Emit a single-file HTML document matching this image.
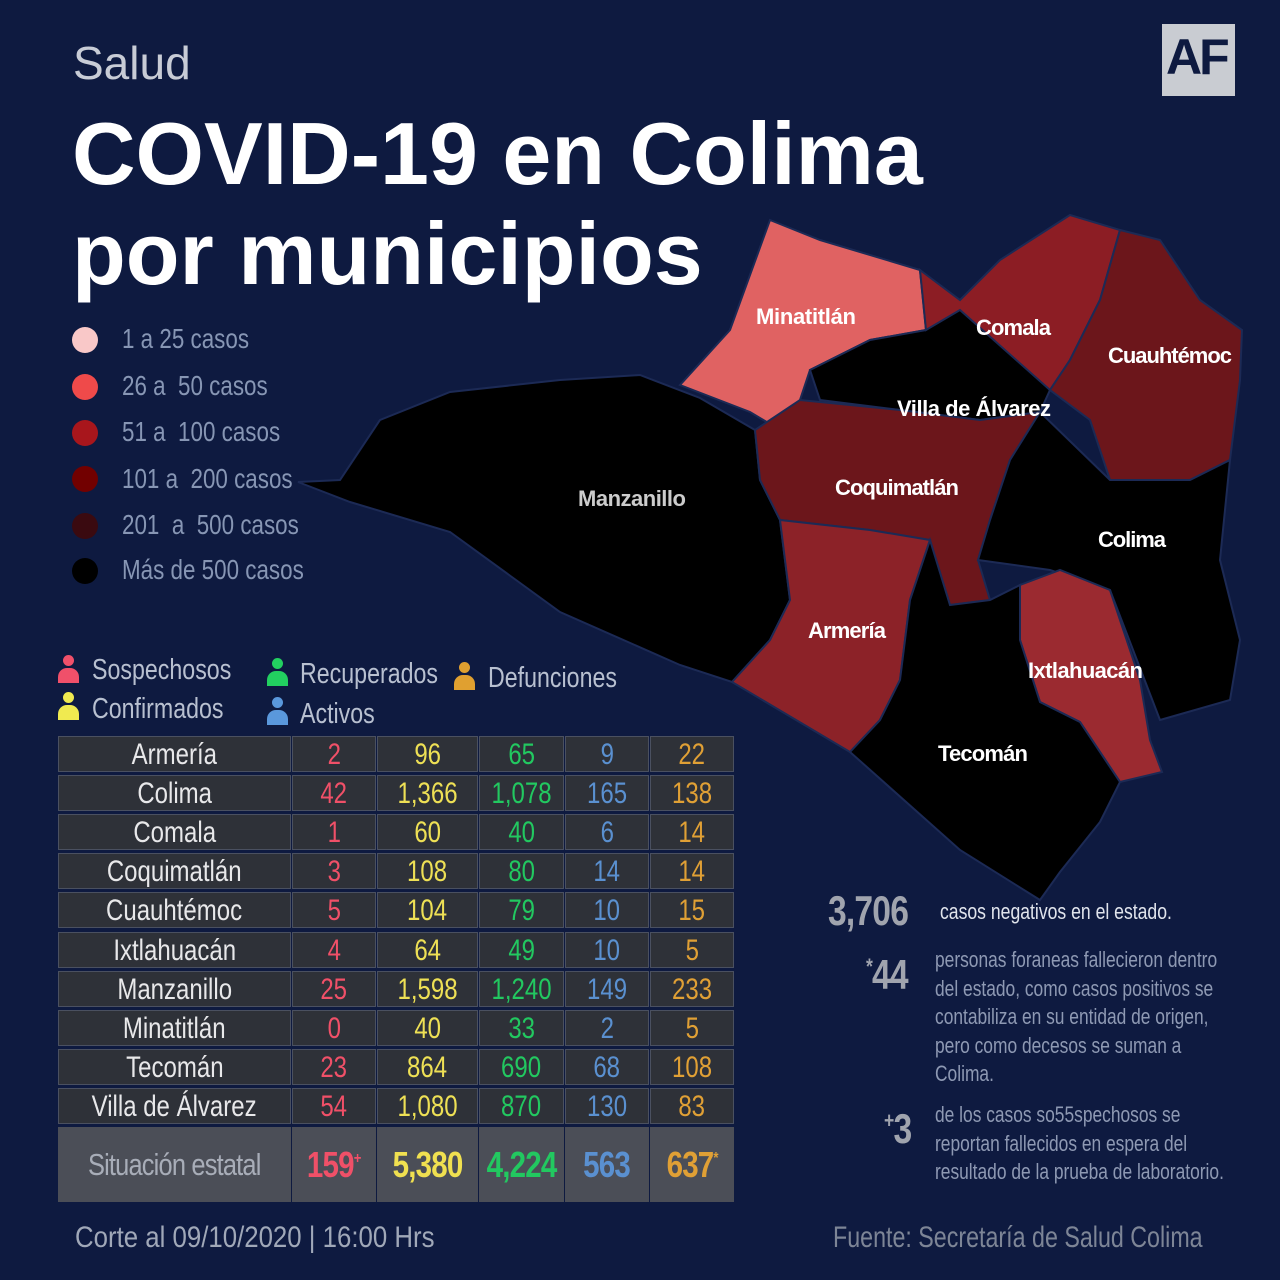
<!DOCTYPE html>
<html><head><meta charset="utf-8"><style>
body{margin:0;width:1280px;height:1280px;background:#0e1a40;position:relative;overflow:hidden;font-family:"Liberation Sans",sans-serif;}
.a{position:absolute;white-space:nowrap;}
.n{display:inline-block;transform:scaleX(.8);transform-origin:left center;}
.leg{color:#8796b4;font-size:28px;}
.dot{position:absolute;width:26px;height:26px;border-radius:50%;}
.cell{position:absolute;height:36px;background:#2e3138;border:1px solid #4a5060;box-sizing:border-box;text-align:center;font-size:30px;line-height:36px;}
.cell span{display:inline-block;transform:scaleX(.8);}
.sum{position:absolute;top:1127px;height:75px;background:#4b4e57;text-align:center;line-height:75px;font-weight:bold;font-size:36px;}
.sum span{display:inline-block;transform:scaleX(.82);letter-spacing:-1px}
.sum sup{font-size:16px;line-height:0;vertical-align:0;position:relative;top:-14px}
.ic{position:absolute;width:22px;height:30px;}
.ic:before{content:"";position:absolute;left:6px;top:0;width:11px;height:11px;border-radius:50%;background:currentColor}
.ic:after{content:"";position:absolute;left:1px;top:13px;width:21px;height:15px;border-radius:9px 9px 0 0;background:currentColor}
.fn{color:#8e99b3;font-size:22px;line-height:28.5px}
</style></head><body>
<div class="a" style="left:73px;top:36px;color:#c8ccd6;font-size:46px;">Salud</div>
<div class="a" style="left:1162px;top:24px;width:73px;height:72px;background:#c9ccd2;"></div>
<div class="a" style="left:1166px;top:28px;font-size:50px;font-weight:bold;color:#0e1a40;letter-spacing:-3px;">AF</div>
<div class="a" style="left:72px;top:104px;color:#fff;font-size:88px;font-weight:bold;letter-spacing:0;line-height:100px;">COVID-19 en Colima<br>por municipios</div>

<svg class="a" style="left:0;top:0" width="1280" height="1280">
<g stroke="#1c2a55" stroke-width="2">
<polygon fill="#000" points="298,482 340,480 380,420 450,392 560,380 640,375 700,398 755,430 760,480 780,520 790,600 770,640 732,682 680,665 560,612 450,532 350,502"/>
<polygon fill="#e06262" points="680,385 730,330 770,220 820,240 920,270 926,330 870,340 810,370 800,400 780,430 750,412"/>
<polygon fill="#000" points="810,370 870,340 926,330 960,305 1050,390 1040,412 980,420 900,410 820,400"/>
<polygon fill="#8c1d24" points="920,270 960,300 1000,260 1070,215 1120,230 1100,300 1070,360 1050,390 960,310 926,330"/>
<polygon fill="#6c161b" points="1100,300 1120,230 1160,240 1200,300 1242,330 1240,380 1230,460 1190,480 1110,480 1090,420 1050,390 1070,360"/>
<polygon fill="#6c161b" points="755,430 800,400 900,410 980,420 1040,412 1010,460 990,520 978,560 990,600 950,605 930,540 870,530 780,520 760,480"/>
<polygon fill="#000" points="1040,412 1110,480 1190,480 1230,460 1220,560 1240,640 1230,700 1160,720 1110,590 1050,570 978,560 990,520 1010,460"/>
<polygon fill="#8c2228" points="780,520 870,530 930,540 910,600 900,680 880,720 850,752 732,682 770,640 790,600"/>
<polygon fill="#9b2a30" points="1020,585 1060,570 1110,590 1140,680 1150,740 1162,772 1120,782 1080,722 1040,702 1020,640"/>
<polygon fill="#000" points="930,540 950,605 990,600 1020,585 1020,640 1040,702 1080,722 1120,782 1100,822 1060,872 1040,900 960,850 850,752 880,720 900,680 910,600"/>
</g>
<g fill="#fff" font-weight="bold" font-size="22" font-family="Liberation Sans">
<text x="756" y="324" textLength="100">Minatitlán</text>
<text x="976" y="335" textLength="75">Comala</text>
<text x="1108" y="363" textLength="124">Cuauhtémoc</text>
<text x="897" y="416" textLength="154">Villa de Álvarez</text>
<text x="835" y="495" textLength="124">Coquimatlán</text>
<text x="1098" y="547" textLength="68">Colima</text>
<text x="808" y="638" textLength="78">Armería</text>
<text x="1028" y="678" textLength="115">Ixtlahuacán</text>
<text x="938" y="761" textLength="90">Tecomán</text>
<text x="578" y="506" fill="#ccc" textLength="108">Manzanillo</text>
</g>
</svg>

<div class="dot" style="left:72px;top:327px;background:#f9c8c8"></div>
<div class="dot" style="left:72px;top:374px;background:#ef4a4a"></div>
<div class="dot" style="left:72px;top:420px;background:#a8161c"></div>
<div class="dot" style="left:72px;top:466px;background:#720000"></div>
<div class="dot" style="left:72px;top:513px;background:#3a0a10"></div>
<div class="dot" style="left:72px;top:558px;background:#000"></div>
<div class="a leg" style="left:122px;top:323px"><span class="n">1 a 25 casos</span></div>
<div class="a leg" style="left:122px;top:370px"><span class="n">26 a&nbsp; 50 casos</span></div>
<div class="a leg" style="left:122px;top:416px"><span class="n">51 a&nbsp; 100 casos</span></div>
<div class="a leg" style="left:122px;top:463px"><span class="n">101 a&nbsp; 200 casos</span></div>
<div class="a leg" style="left:122px;top:509px"><span class="n">201&nbsp; a&nbsp; 500 casos</span></div>
<div class="a leg" style="left:122px;top:554px"><span class="n">Más de 500 casos</span></div>

<div class="ic" style="left:57px;top:655px;color:#f0506a"></div>
<div class="ic" style="left:57px;top:692px;color:#f0ea50"></div>
<div class="ic" style="left:266px;top:658px;color:#22d060"></div>
<div class="ic" style="left:266px;top:697px;color:#5a98dc"></div>
<div class="ic" style="left:453px;top:662px;color:#e0a030"></div>
<div class="a" style="left:92px;top:654px;color:#b8c0d0;font-size:29px"><span class="n">Sospechosos</span></div>
<div class="a" style="left:92px;top:693px;color:#b8c0d0;font-size:29px"><span class="n">Confirmados</span></div>
<div class="a" style="left:300px;top:658px;color:#b8c0d0;font-size:29px"><span class="n">Recuperados</span></div>
<div class="a" style="left:300px;top:698px;color:#b8c0d0;font-size:29px"><span class="n">Activos</span></div>
<div class="a" style="left:488px;top:662px;color:#b8c0d0;font-size:29px"><span class="n">Defunciones</span></div>

<div id="t"></div>
<script>
var rows=[["Armería",2,96,65,9,22],["Colima",42,"1,366","1,078",165,138],["Comala",1,60,40,6,14],["Coquimatlán",3,108,80,14,14],["Cuauhtémoc",5,104,79,10,15],["Ixtlahuacán",4,64,49,10,5],["Manzanillo",25,"1,598","1,240",149,233],["Minatitlán",0,40,33,2,5],["Tecomán",23,864,690,68,108],["Villa de Álvarez",54,"1,080",870,130,83]];
var xs=[[58,233],[292,84],[377,101],[479,85],[565,84],[650,84]];
var cols=["#e8e8ea","#f05068","#eee055","#22c860","#5a90d0","#e0a035"];
var h="";
rows.forEach(function(r,i){var y=736+i*39.1;r.forEach(function(v,j){h+='<div class="cell" style="left:'+xs[j][0]+'px;top:'+y+'px;width:'+xs[j][1]+'px;color:'+cols[j]+'"><span>'+v+'</span></div>';});});
var s=["Situación estatal","159<sup>+</sup>","5,380","4,224","563","637<sup>*</sup>"];
var sc=["#a8adb8","#f05068","#f0e050","#22c860","#5a90d0","#e0a035"];
s.forEach(function(v,j){h+='<div class="sum" style="left:'+xs[j][0]+'px;width:'+xs[j][1]+'px;color:'+sc[j]+(j==0?';font-weight:normal;font-size:31px':'')+'"><span>'+v+'</span></div>';});
document.getElementById("t").innerHTML=h;
</script>

<div class="a" style="left:75px;top:1221px;color:#a0a8b8;font-size:30px"><span class="n" style="transform:scaleX(.86)">Corte al 09/10/2020 | 16:00 Hrs</span></div>
<div class="a" style="left:833px;top:1221px;color:#7d8596;font-size:30px"><span class="n" style="transform:scaleX(.775)">Fuente: Secretaría de Salud Colima</span></div>

<div class="a" style="left:828px;top:887px;color:#a0a4ae;font-size:42px;font-weight:bold;letter-spacing:-1px"><span class="n">3,706</span></div>
<div class="a" style="left:940px;top:899px;color:#e0e4ec;font-size:22px"><span class="n">casos negativos en el estado.</span></div>
<div class="a" style="left:866px;top:951px;color:#a0a4ae;font-size:42px;font-weight:bold;letter-spacing:-1px"><span class="n"><sup style="font-size:22px">*</sup>44</span></div>
<div class="a fn" style="left:935px;top:946px"><span class="n" style="transform:scaleX(.79)">personas foraneas fallecieron dentro<br>del estado, como casos positivos se<br>contabiliza en su entidad de origen,<br>pero como decesos se suman a<br>Colima.</span></div>
<div class="a" style="left:884px;top:1105px;color:#a0a4ae;font-size:42px;font-weight:bold;letter-spacing:-1px"><span class="n"><sup style="font-size:22px">+</sup>3</span></div>
<div class="a fn" style="left:935px;top:1101px"><span class="n" style="transform:scaleX(.79)">de los casos so55spechosos se<br>reportan fallecidos en espera del<br>resultado de la prueba de laboratorio.</span></div>
</body></html>
